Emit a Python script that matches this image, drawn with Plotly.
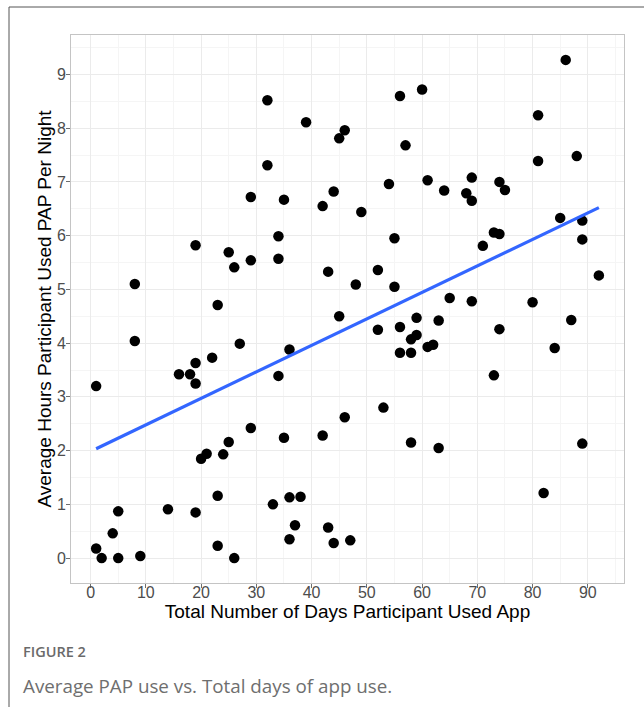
import numpy as np
import plotly.graph_objects as go

days = [29, 19, 25, 26, 29, 8, 23, 32, 39, 46, 45, 56, 60, 57, 32, 35, 44, 42, 49, 54,
        61, 64, 34, 55, 34, 43, 52, 48, 55, 65, 86, 81, 81, 88, 69, 68, 69, 74, 75, 85,
        89, 89, 73, 74, 71, 92, 69, 80, 8, 27, 22, 19, 16, 18, 19, 1, 29, 25, 21, 20,
        24, 23, 14, 19, 5, 4, 1, 2, 5, 9, 23, 26, 45, 36, 34, 52, 56, 59, 63, 58,
        59, 56, 58, 61, 62, 53, 46, 35, 42, 58, 63, 33, 36, 38, 37, 36, 43, 44, 47, 74,
        87, 84, 73, 89, 82]
hours = [6.72, 5.82, 5.69, 5.41, 5.54, 5.10, 4.71, 8.52, 8.11, 7.96, 7.81, 8.60, 8.72, 7.68, 7.31, 6.67, 6.82, 6.55, 6.44, 6.96,
         7.03, 6.84, 5.99, 5.95, 5.57, 5.33, 5.36, 5.09, 5.05, 4.84, 9.27, 8.24, 7.39, 7.48, 7.08, 6.79, 6.65, 7.00, 6.85, 6.33,
         6.28, 5.93, 6.06, 6.03, 5.81, 5.26, 4.78, 4.76, 4.04, 3.99, 3.73, 3.63, 3.42, 3.42, 3.25, 3.20, 2.42, 2.16, 1.94, 1.85,
         1.93, 1.16, 0.91, 0.85, 0.87, 0.46, 0.18, 0.00, 0.00, 0.04, 0.23, 0.00, 4.50, 3.88, 3.39, 4.25, 4.30, 4.47, 4.42, 4.07,
         4.15, 3.82, 3.82, 3.93, 3.97, 2.80, 2.62, 2.24, 2.28, 2.15, 2.05, 1.00, 1.13, 1.14, 0.61, 0.35, 0.57, 0.28, 0.33, 4.26,
         4.43, 3.91, 3.40, 2.13, 1.21]

x_ticks = [0, 10, 20, 30, 40, 50, 60, 70, 80, 90]
y_ticks = [0, 1, 2, 3, 4, 5, 6, 7, 8, 9]

x_title = "Total Number of Days Participant Used App"
y_title = "Average Hours Participant Used PAP Per Night"
fig_label = "FIGURE 2"
caption = "Average PAP use vs. Total days of app use."

xa = np.array(days, dtype=float)
ya = np.array(hours, dtype=float)
slope, intercept = np.polyfit(xa, ya, 1)
fit_x = [xa.min(), xa.max()]
fit_y = [intercept + slope * v for v in fit_x]

fig = go.Figure()
fig.add_trace(go.Scatter(x=days, y=hours, mode="markers",
                         marker=dict(color="black", size=10.5, line=dict(width=0)),
                         showlegend=False, hoverinfo="skip"))
fig.add_trace(go.Scatter(x=fit_x, y=fit_y, mode="lines",
                         line=dict(color="#3366FF", width=3.2),
                         showlegend=False, hoverinfo="skip"))

xr = [min(days) - 0.05 * (max(days) - min(days)), max(days) + 0.05 * (max(days) - min(days))]
yr = [min(hours) - 0.05 * (max(hours) - min(hours)), max(hours) + 0.05 * (max(hours) - min(hours))]

FONT = "Liberation Sans, Arial, Helvetica, sans-serif"
axis_common = dict(showline=True, linecolor="#C4C4C4", linewidth=1, mirror=True,
                   ticks="outside", ticklen=4, tickcolor="#6E6E6E", tickwidth=1,
                   showgrid=True, gridcolor="#EBEBEB", gridwidth=1, zeroline=False,
                   tickfont=dict(family=FONT, size=16, color="#4D4D4D"))

fig.update_xaxes(range=xr, tickvals=x_ticks, ticktext=[str(t) for t in x_ticks],
                 ticklabelstandoff=-9,
                 minor=dict(showgrid=True, gridcolor="#F5F5F5", gridwidth=0.6, dtick=5, tick0=0),
                 title=dict(text=x_title, standoff=0,
                            font=dict(family=FONT, size=19, color="black")),
                 **axis_common)
fig.update_yaxes(range=yr, tickvals=y_ticks, ticktext=[str(t) for t in y_ticks],
                 ticklabelstandoff=-3,
                 minor=dict(showgrid=True, gridcolor="#F5F5F5", gridwidth=0.6, dtick=0.5, tick0=0),
                 title=dict(text=y_title, standoff=0,
                            font=dict(family=FONT, size=19, color="black")),
                 **axis_common)

L, R, T, B = 71, 20, 35, 124
W, H = 644, 707
pw, ph = W - L - R, H - T - B

def px(xp):
    return (xp - L) / pw

def py(yp):
    return (H - B - yp) / ph

fig.add_shape(type="line", xref="paper", yref="paper", x0=px(9), x1=px(650), y0=py(7), y1=py(7),
              line=dict(color="#555555", width=1))
fig.add_shape(type="line", xref="paper", yref="paper", x0=px(9), x1=px(9), y0=py(7), y1=py(710),
              line=dict(color="#555555", width=1))

fig.add_annotation(text=fig_label, xref="paper", yref="paper", x=px(21), y=py(651),
                   xanchor="left", yanchor="middle", showarrow=False,
                   font=dict(family="Open Sans, sans-serif", size=14.5, color="#6A6A6A", weight=600))
fig.add_annotation(text=caption, xref="paper", yref="paper", x=px(21), y=py(686),
                   xanchor="left", yanchor="middle", showarrow=False,
                   font=dict(family="Open Sans, sans-serif", size=18.8, color="#6E6E6E"))

fig.update_layout(width=W, height=H, margin=dict(l=L, r=R, t=T, b=B),
                  plot_bgcolor="white", paper_bgcolor="white")

fig.write_html("out.html")
